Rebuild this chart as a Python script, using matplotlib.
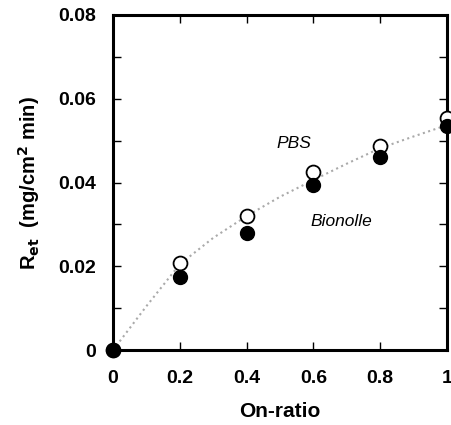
import numpy as np
import matplotlib
matplotlib.use('Agg')
import matplotlib.pyplot as plt
from matplotlib.ticker import MultipleLocator, FixedLocator

# data
on_ratio = [0.0, 0.2, 0.4, 0.6, 0.8, 1.0]
pbs = [0.0, 0.0209, 0.0320, 0.0426, 0.0487, 0.0554]
bionolle = [0.0, 0.0174, 0.0280, 0.0393, 0.0461, 0.0535]

fit_x = [0.0, 0.1, 0.2, 0.3, 0.4, 0.5, 0.6, 0.7, 0.8, 0.9, 1.0]
fit_y = [0.0, 0.0105, 0.0205, 0.0268, 0.0320, 0.0366, 0.0406, 0.0445, 0.0482, 0.0510, 0.0537]

x_ticks = [0, 0.2, 0.4, 0.6, 0.8, 1.0]
x_labels = ['0', '0.2', '0.4', '0.6', '0.8', '1']
y_ticks = [0, 0.02, 0.04, 0.06, 0.08]
y_labels = ['0', '0.02', '0.04', '0.06', '0.08']

plt.rcParams['font.family'] = ['Liberation Sans', 'DejaVu Sans']

fig = plt.figure(figsize=(4.52, 4.25), dpi=100)
ax = fig.add_axes([0.25, 0.176, 0.739, 0.789])

ax.plot(fit_x, fit_y, linestyle=':', color='#aaaaaa', linewidth=1.5, zorder=2)
ax.plot(on_ratio, pbs, 'o', markersize=10, markerfacecolor='white',
        markeredgecolor='black', markeredgewidth=1.3, clip_on=False, zorder=3)
ax.plot(on_ratio, bionolle, 'o', markersize=10, color='black',
        clip_on=False, zorder=4)

ax.text(0.49, 0.0483, 'PBS', style='italic', fontsize=12.5)
ax.text(0.59, 0.0296, 'Bionolle', style='italic', fontsize=12.5)

ax.set_xlim(0, 1)
ax.set_ylim(0, 0.08)
ax.xaxis.set_major_locator(FixedLocator(x_ticks))
ax.set_xticklabels(x_labels)
ax.yaxis.set_major_locator(FixedLocator(y_ticks))
ax.set_yticklabels(y_labels)
ax.yaxis.set_minor_locator(MultipleLocator(0.01))

ax.tick_params(which='both', direction='in', top=True, right=True,
               labelsize=14, width=1)
ax.tick_params(axis='x', pad=14)
ax.tick_params(axis='y', pad=12)
ax.tick_params(which='major', length=6)
ax.tick_params(which='minor', length=6)
for lab in ax.get_xticklabels() + ax.get_yticklabels():
    lab.set_fontweight('bold')
for s in ax.spines.values():
    s.set_linewidth(2.2)

ax.set_xlabel('On-ratio', fontsize=15, fontweight='bold', labelpad=11)
ax.set_ylabel(r'R$_{\mathbf{et}}$  (mg/cm$^{\mathbf{2}}$ min)', fontsize=14.5,
              fontweight='bold', labelpad=12)

fig.savefig('out.png', dpi=100)
